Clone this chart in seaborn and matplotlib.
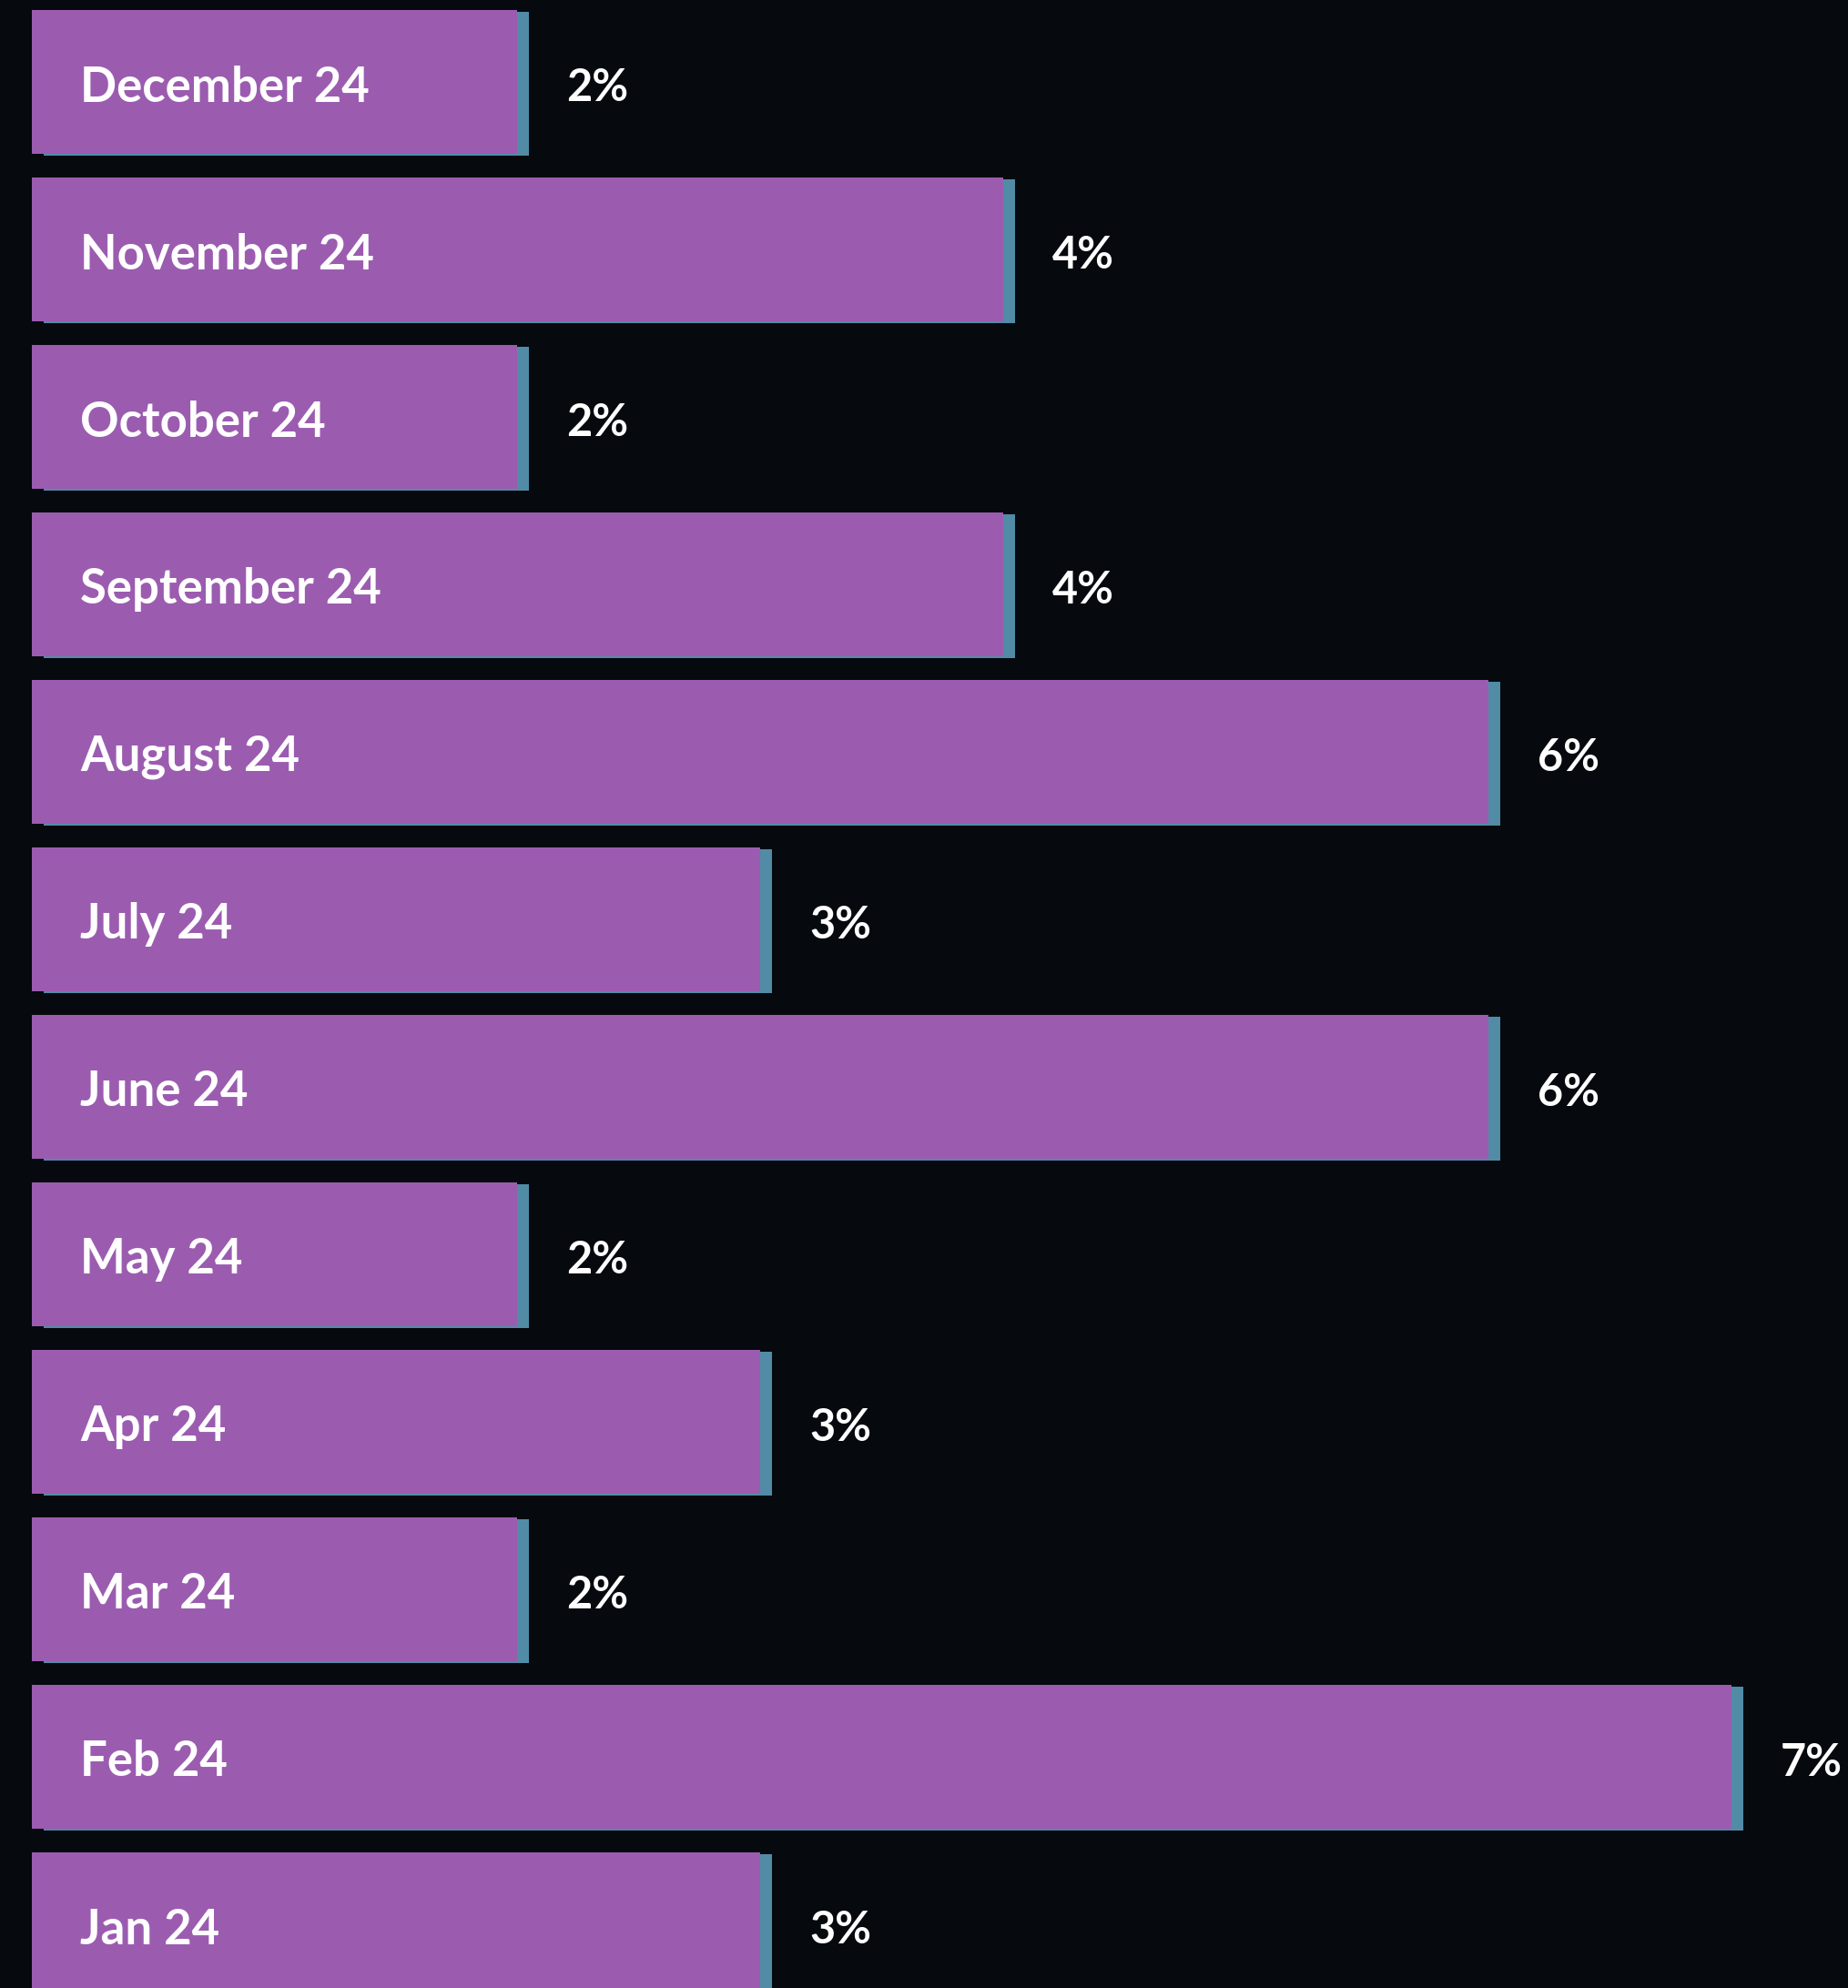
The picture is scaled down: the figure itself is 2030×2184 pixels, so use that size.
import matplotlib
matplotlib.use("Agg")
import matplotlib.pyplot as plt
import matplotlib.transforms as mtransforms
import seaborn as sns
import pandas as pd

months = ["December 24", "November 24", "October 24", "September 24", "August 24",
          "July 24", "June 24", "May 24", "Apr 24", "Mar 24", "Feb 24", "Jan 24"]
values = [2, 4, 2, 4, 6, 3, 6, 2, 3, 2, 7, 3]
value_labels = ["2%", "4%", "2%", "4%", "6%", "3%", "6%", "2%", "3%", "2%", "7%", "3%"]

BG = "#060A0E"
PURPLE = "#9B5CB0"
TEAL = "#518BA6"

sns.set_theme(style="white")
plt.rcParams["font.family"] = ["Lato", "DejaVu Sans"]

df = pd.DataFrame({"month": months, "value": values})

fig = plt.figure(figsize=(20.30, 21.84), dpi=100, facecolor=BG)
ax = fig.add_axes([0, 0, 1, 1])
ax.set_facecolor(BG)

# shadow bars (teal), shifted slightly right/down
sns.barplot(data=df, x="value", y="month", orient="h", color=TEAL,
            saturation=1, width=0.86, ax=ax, order=months)
shadow_patches = list(ax.patches)
offset = mtransforms.ScaledTranslation(13 / 100, -2 / 100, fig.dpi_scale_trans)
for p in shadow_patches:
    p.set_transform(ax.transData + offset)
    p.set_linewidth(0)

# main purple bars
sns.barplot(data=df, x="value", y="month", orient="h", color=PURPLE,
            saturation=1, width=0.86, ax=ax, order=months)
main_container = ax.containers[-1]
for p in main_container:
    p.set_linewidth(0)

for i, (v, lab) in enumerate(zip(values, value_labels)):
    ax.annotate(lab, xy=(v, i), xytext=(39, -4.5), textcoords="offset points",
                color="white", fontsize=35, fontweight="bold",
                va="center", ha="left")

down = mtransforms.ScaledTranslation(0, -6 / 100, fig.dpi_scale_trans)
for i, m in enumerate(months):
    ax.text(0.2, i, m, color="white", fontsize=38, fontweight="bold",
            va="center", ha="left", transform=ax.transData + down)

ax.set_xlim(-35 / 266.7, (2030 - 35) / 266.7)
ax.set_ylim(11 + 70 / 184, -90 / 184)
ax.set_axis_off()

fig.savefig("out.png", dpi=100, facecolor=BG)
